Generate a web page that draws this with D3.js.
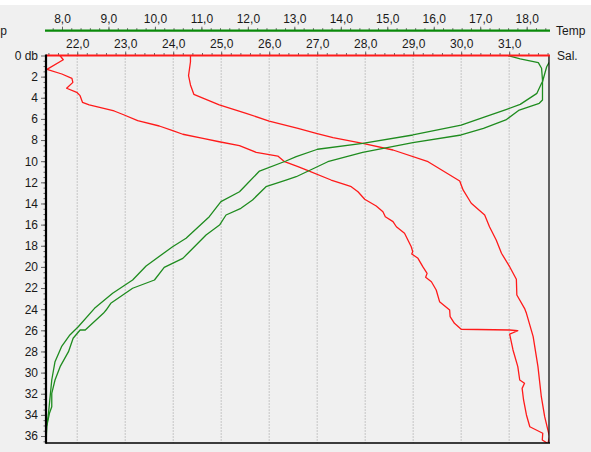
<!DOCTYPE html>
<html>
<head>
<meta charset="utf-8">
<script src="https://d3js.org/d3.v7.min.js"></script>
<style>
body{margin:0;background:#f0f0f0;}
svg{display:block;}
text{font-family:"Liberation Sans", Arial, sans-serif;font-size:12px;fill:#1a1a1a;}
</style>
</head>
<body>
<script>
// pressure in db, salinity and temperature
var sal1Db = [0,0.40,1.31,1.75,2.16,2.54,3.10,3.48,3.80,4.43,4.68,5.25,5.63,6.17,6.67,7.11,7.45,7.83,8.16,8.53,9.16,9.51,10.05,10.52,10.83,11.78,12.25,12.41,12.89,13.60,14.24,14.78,15.25,15.72,16.20,16.82,18.09,18.56,18.78,19.19,19.98,20.61,20.98,21.40,22.19,23.29,24.08,24.71,25.34,25.90,25.97,26.04,26.35,27.86,29.44,30.70,31.01,31.49,32.59,34.01,35.12,35.74,36.38,36.66];
var sal1 = [21.64,21.71,21.37,21.68,21.89,21.91,21.78,21.99,22.06,22.11,22.25,22.77,22.98,23.26,23.71,23.99,24.20,24.62,24.96,25.38,25.73,26.18,26.32,26.60,26.77,27.29,27.60,27.71,27.85,27.99,28.23,28.37,28.42,28.58,28.65,28.82,28.96,28.99,28.97,29.10,29.20,29.29,29.26,29.38,29.48,29.55,29.76,29.77,29.86,30.00,31.01,31.18,31.01,31.08,31.18,31.22,31.32,31.27,31.30,31.36,31.43,31.70,31.69,31.79];

var sal2Db = [0,0.59,1.91,2.79,3.67,4.68,5.47,6.20,6.89,7.36,7.78,8.31,8.94,10.05,11.87,12.72,13.98,15.09,16.20,17.46,18.71,19.98,21.17,22.66,23.92,24.39,26.60,29.44,32.28,34.17,36.06,36.66];
var sal2 = [24.36,24.36,24.32,24.36,24.43,24.96,25.52,26.00,26.60,26.98,27.33,27.95,28.58,29.31,29.97,30.04,30.21,30.49,30.59,30.73,30.84,31.01,31.15,31.16,31.32,31.36,31.50,31.60,31.67,31.74,31.84,31.81];

var temp1Db = [0.02,0.33,0.68,1.21,2.32,4.21,4.52,5.16,6.10,6.89,7.52,8.25,9.16,10.05,11.47,11.78,12.41,13.67,14.46,15.09,16.04,16.98,18.40,19.19,20.04,21.24,22.02,23.44,24.08,24.39,25.97,25.97,26.75,28.02,29.44,30.70,31.96,33.23,33.85,35.12,36.66];
var temp1 = [17.60,17.86,18.25,18.32,18.34,18.34,18.27,17.84,17.55,17.07,16.59,15.55,14.47,13.72,13.04,12.82,12.39,12.10,11.85,11.53,11.39,11.10,10.78,10.60,10.20,9.99,9.52,9.05,8.95,8.89,8.50,8.39,8.24,8.14,7.96,7.85,7.78,7.78,7.73,7.67,7.66];

var temp2Db = [0.02,0.59,1.06,2.48,2.63,3.58,4.62,5.09,5.85,6.58,7.52,8.31,8.87,9.57,9.98,10.93,12.25,12.89,13.83,15.25,17.29,18.09,19.91,21.24,22.50,23.92,25.66,26.44,27.55,28.97,30.70,33.85,35.12,36.06];
var temp2 = [18.49,18.49,18.43,18.34,18.32,18.22,17.86,17.57,17.07,16.59,15.55,14.47,13.50,13.04,12.82,12.25,11.96,11.82,11.42,11.17,10.67,10.38,9.81,9.52,9.09,8.70,8.35,8.17,7.99,7.85,7.78,7.71,7.67,7.66];

var salTicks = [22,23,24,25,26,27,28,29,30,31];
var tempTicks = [8,9,10,11,12,13,14,15,16,17,18];
var dbTicks = [0,2,4,6,8,10,12,14,16,18,20,22,24,26,28,30,32,34,36];

var W = 591, H = 452;
var plotL = 46, plotR = 549, plotT = 55.5, plotB = 443, tempY = 30.7;

var svg = d3.select("body").append("svg")
  .attr("width", W).attr("height", H);

svg.append("rect").attr("width", W).attr("height", H).attr("fill", "#f0f0f0");
svg.append("rect").attr("width", W).attr("height", 5).attr("fill", "#ffffff");

var y = d3.scaleLinear().domain([0, 36.66]).range([plotT, plotB]);
var xs = d3.scaleLinear().domain([21.35, 31.83]).range([plotL, plotR]);
var xt = d3.scaleLinear().domain([7.656, 18.48]).range([plotL, plotR]);

var comma = d3.formatLocale({decimal: ",", thousands: ".", grouping: [3], currency: ["", ""]}).format(".1f");

// grid
svg.append("g").selectAll("line")
  .data(salTicks).enter().append("line")
  .attr("x1", function(d){ return xs(d); }).attr("x2", function(d){ return xs(d); })
  .attr("y1", plotT).attr("y2", plotB)
  .attr("stroke", "#9a9a9a").attr("stroke-width", 1)
  .attr("stroke-dasharray", "1,2");

svg.append("clipPath").attr("id", "plot")
  .append("rect").attr("x", plotL).attr("y", plotT).attr("width", plotR - plotL).attr("height", plotB - plotT);

var plot = svg.append("g").attr("clip-path", "url(#plot)");

function profile(depths, vals, xscale, color) {
  var pts = depths.map(function(d, i){ return [vals[i], d]; });
  var line = d3.line()
    .x(function(p){ return xscale(p[0]); })
    .y(function(p){ return y(p[1]); });
  plot.append("path").datum(pts)
    .attr("d", line)
    .attr("fill", "none")
    .attr("stroke", color)
    .attr("stroke-width", 1.3)
    .attr("stroke-linejoin", "round");
}
profile(sal1Db, sal1, xs, "#ff1a1a");
profile(sal2Db, sal2, xs, "#ff1a1a");
profile(temp1Db, temp1, xt, "#1f8c1f");
profile(temp2Db, temp2, xt, "#1f8c1f");

// frame
svg.append("line").attr("x1", plotR).attr("x2", plotR).attr("y1", plotT).attr("y2", plotB)
  .attr("stroke", "#000").attr("stroke-width", 1.2);
svg.append("line").attr("x1", plotL).attr("x2", plotR + 1).attr("y1", plotB).attr("y2", plotB)
  .attr("stroke", "#000").attr("stroke-width", 1.5);

function minorTicks(lo, hi, step) {
  var out = [];
  for (var v = lo; v <= hi + 1e-9; v += step) out.push(Math.round(v * 10) / 10);
  return out;
}

// temperature axis (green)
var tg = svg.append("g").attr("transform", "translate(0," + tempY + ")");
tg.call(d3.axisTop(xt).tickValues(minorTicks(7.8, 18.4, 0.2)).tickSize(2.5).tickFormat("").tickSizeOuter(0));
tg.select(".domain").remove();
var tg2 = svg.append("g").attr("transform", "translate(0," + tempY + ")");
tg2.call(d3.axisTop(xt).tickValues(tempTicks).tickSize(4).tickPadding(4).tickFormat(comma).tickSizeOuter(0));
tg2.select(".domain").remove();
svg.append("line").attr("x1", plotL - 1).attr("x2", plotR + 1).attr("y1", tempY).attr("y2", tempY)
  .attr("stroke", "#0a8a0a").attr("stroke-width", 2.2);

// salinity axis (red)
var sg = svg.append("g").attr("transform", "translate(0," + plotT + ")");
sg.call(d3.axisTop(xs).tickValues(minorTicks(21.4, 31.8, 0.2)).tickSize(2.5).tickFormat("").tickSizeOuter(0));
sg.select(".domain").remove();
var sg2 = svg.append("g").attr("transform", "translate(0," + plotT + ")");
sg2.call(d3.axisTop(xs).tickValues(salTicks).tickSize(4).tickPadding(4).tickFormat(comma).tickSizeOuter(0));
sg2.select(".domain").remove();

// pressure axis
var yg = svg.append("g").attr("transform", "translate(" + plotL + ",0)");
yg.call(d3.axisLeft(y).tickValues(minorTicks(0.5, 36.5, 0.5)).tickSize(2.5).tickFormat("").tickSizeOuter(0));
yg.select(".domain").remove();
var yg2 = svg.append("g").attr("transform", "translate(" + plotL + ",0)");
yg2.call(d3.axisLeft(y).tickValues(dbTicks).tickSize(5).tickPadding(3)
  .tickFormat(function(d){ return d === 0 ? "0 db" : d; }).tickSizeOuter(0));
yg2.select(".domain").remove();

svg.selectAll("g.tick line").attr("stroke", "#666");
svg.selectAll("g.tick text").attr("fill", "#1a1a1a")
  .style("font-family", "'Liberation Sans', Arial, sans-serif").style("font-size", "12px");

svg.append("line").attr("x1", plotL).attr("x2", plotR + 1).attr("y1", plotT).attr("y2", plotT)
  .attr("stroke", "#ff1a1a").attr("stroke-width", 2.2);
svg.append("line").attr("x1", plotL).attr("x2", plotL).attr("y1", plotT - 1).attr("y2", plotB + 0.75)
  .attr("stroke", "#000").attr("stroke-width", 2.2);

// axis names
svg.append("text").attr("x", 556).attr("y", tempY).attr("dy", "0.35em").text("Temp");
svg.append("text").attr("x", 557).attr("y", plotT).attr("dy", "0.35em").text("Sal.");
svg.append("text").attr("x", 7).attr("y", tempY).attr("dy", "0.35em").attr("text-anchor", "end").text("Temp");
</script>
</body>
</html>
